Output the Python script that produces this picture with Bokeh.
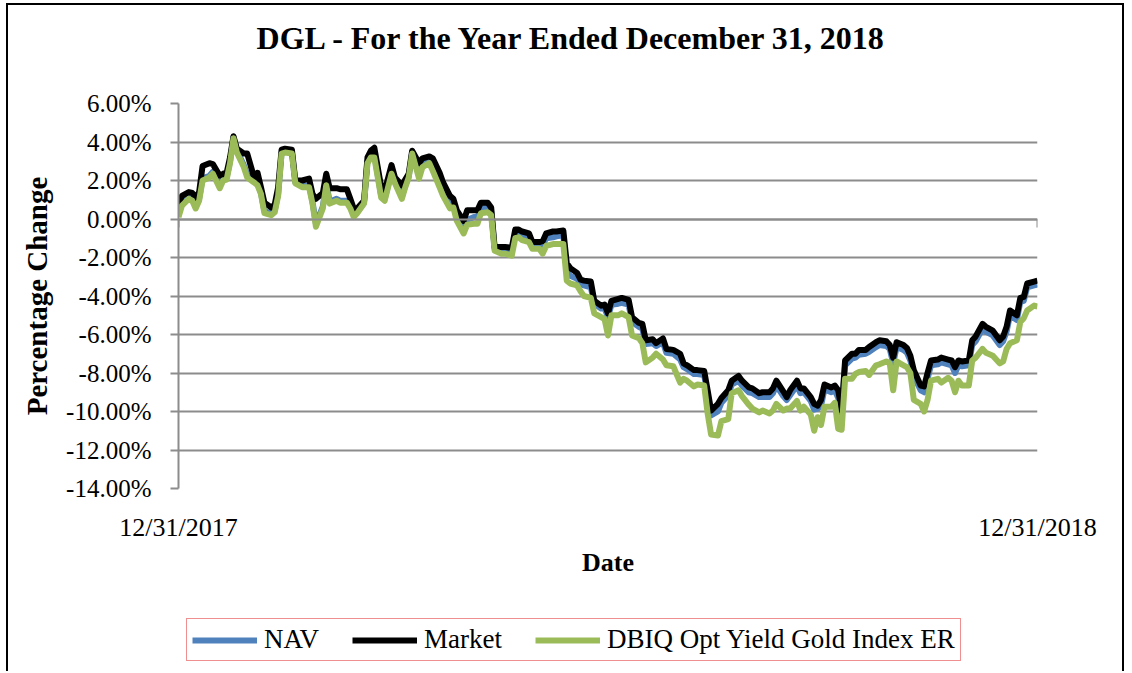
from bokeh.plotting import figure
from bokeh.layouts import column
from bokeh.models import (Range1d, FixedTicker, PrintfTickFormatter, LinearAxis,
                          Legend, LegendItem, ColumnDataSource, Label)
from bokeh.embed import file_html
from bokeh.resources import INLINE

# trading-day index within 2018 (0 = 12/31/2017, 250 = 12/31/2018)
days = [0, 1, 3, 4, 5, 6, 7, 9, 10, 12,
        13, 14, 15, 16, 17, 19, 20, 22, 23, 24,
        25, 27, 28, 29, 30, 31, 33, 34, 36, 38,
        39, 40, 42, 43, 44, 46, 47, 49, 50, 51,
        52, 54, 55, 56, 57, 59, 60, 62, 63, 65,
        66, 67, 68, 70, 71, 73, 74, 76, 77, 79,
        80, 81, 83, 84, 86, 87, 88, 90, 91, 92,
        94, 95, 97, 98, 99, 100, 102, 103, 105, 106,
        107, 109, 110, 112, 113, 114, 116, 117, 118, 120,
        121, 123, 124, 125, 126, 128, 129, 131, 132, 134,
        135, 136, 138, 139, 141, 142, 144, 146, 147, 148,
        150, 151, 153, 154, 155, 157, 158, 160, 161, 163,
        164, 166, 167, 169, 170, 172, 173, 174, 176, 177,
        178, 180, 181, 182, 184, 185, 186, 187, 188, 190,
        191, 192, 193, 194, 196, 197, 198, 200, 201, 203,
        204, 206, 207, 208, 209, 211, 212, 213, 214, 216,
        217, 218, 219, 221, 222, 224, 225, 226, 227, 228,
        230, 231, 232, 234, 235, 237, 239, 240, 241, 242,
        244, 245, 246, 247, 249, 250]

index_er = [0.10, 0.70, 1.05, 0.95, 0.55, 0.95, 2.00, 2.15, 2.35, 1.60,
            2.00, 2.05, 2.90, 4.20, 3.45, 2.70, 2.15, 1.90, 1.75, 1.30,
            0.30, 0.20, 0.35, 1.20, 3.40, 3.45, 3.40, 1.85, 1.65, 1.65,
            0.80, -0.40, 0.55, 1.75, 0.80, 0.95, 0.85, 0.85, 0.55, 0.10,
            0.30, 0.80, 2.90, 3.20, 3.20, 1.10, 0.95, 2.35, 1.85, 1.05,
            1.65, 2.15, 3.40, 2.10, 2.70, 2.90, 2.50, 1.65, 1.20, 0.55,
            0.60, -0.10, -0.75, -0.30, -0.25, -0.25, 0.30, 0.35, 0.20, -1.65,
            -1.80, -1.80, -1.90, -1.00, -0.95, -1.10, -1.20, -1.55, -1.55, -1.80,
            -1.40, -1.30, -1.30, -1.30, -3.20, -3.35, -3.45, -3.75, -4.00, -4.10,
            -4.90, -5.10, -5.20, -6.05, -5.00, -5.00, -4.90, -5.10, -6.05, -6.20,
            -6.45, -7.45, -7.20, -7.00, -7.30, -7.60, -7.65, -8.50, -8.30, -8.40,
            -8.70, -8.60, -8.65, -10.10, -11.20, -11.25, -10.50, -10.40, -9.05, -8.90,
            -9.20, -9.65, -9.85, -10.05, -9.95, -10.10, -9.95, -9.60, -9.95, -9.85,
            -9.85, -9.45, -9.95, -9.75, -10.15, -11.00, -10.30, -10.70, -9.75, -9.75,
            -9.55, -10.90, -10.95, -8.30, -8.30, -8.05, -7.95, -7.90, -8.10, -7.60,
            -7.55, -7.40, -7.50, -8.90, -7.40, -7.60, -7.70, -8.00, -9.40, -9.60,
            -10.00, -9.40, -8.40, -8.30, -8.50, -8.25, -8.40, -9.00, -8.40, -8.65,
            -8.65, -7.35, -7.20, -6.75, -6.95, -7.10, -7.50, -7.40, -6.75, -6.45,
            -6.30, -5.35, -5.15, -4.75, -4.50, -4.55]

market = [0.75, 1.20, 1.40, 1.35, 1.10, 1.40, 2.75, 2.90, 2.85, 2.25,
          2.35, 2.40, 3.20, 4.30, 3.65, 3.40, 3.40, 2.15, 2.40, 1.65,
          0.85, 0.60, 0.75, 1.65, 3.60, 3.65, 3.60, 2.00, 2.00, 2.10,
          1.30, 1.05, 1.35, 2.35, 1.60, 1.60, 1.55, 1.55, 1.05, 0.55,
          0.55, 0.95, 3.20, 3.55, 3.70, 1.65, 1.45, 2.80, 2.15, 1.75,
          2.05, 2.35, 3.55, 2.90, 3.15, 3.25, 3.15, 2.40, 1.90, 1.20,
          1.05, 0.45, -0.10, 0.45, 0.45, 0.45, 0.85, 0.85, 0.60, -1.45,
          -1.45, -1.45, -1.50, -0.55, -0.55, -0.65, -0.75, -1.20, -1.20, -1.15,
          -0.75, -0.65, -0.65, -0.60, -2.30, -2.55, -2.80, -3.15, -3.20, -3.25,
          -4.25, -4.50, -4.45, -4.90, -4.25, -4.15, -4.10, -4.20, -5.10, -5.40,
          -5.45, -6.30, -6.25, -6.45, -6.20, -6.75, -6.80, -7.00, -7.50, -7.60,
          -7.85, -7.85, -7.90, -8.90, -9.95, -9.60, -9.30, -8.90, -8.40, -8.15,
          -8.40, -8.75, -8.80, -9.05, -9.00, -9.00, -8.80, -8.40, -8.95, -9.25,
          -8.90, -8.40, -8.80, -8.80, -9.25, -9.60, -9.70, -9.40, -8.60, -8.75,
          -8.65, -8.90, -9.95, -7.35, -7.00, -7.00, -6.80, -6.80, -6.65, -6.40,
          -6.30, -6.35, -6.55, -7.20, -6.40, -6.55, -6.70, -7.10, -7.85, -8.65,
          -8.70, -8.00, -7.35, -7.30, -7.20, -7.30, -7.35, -7.70, -7.35, -7.40,
          -7.35, -6.30, -6.10, -5.45, -5.60, -5.80, -6.30, -6.10, -5.60, -4.75,
          -5.00, -4.10, -4.05, -3.35, -3.25, -3.20]

nav = [0.25, 0.80, 1.15, 1.05, 0.65, 1.05, 2.10, 2.25, 2.45, 1.70,
       2.10, 2.15, 3.00, 4.25, 3.55, 2.80, 2.30, 1.95, 1.85, 1.35,
       0.40, 0.30, 0.45, 1.30, 3.45, 3.50, 3.45, 1.90, 1.70, 1.75,
       0.90, -0.25, 0.65, 1.85, 0.90, 1.05, 0.95, 0.95, 0.65, 0.20,
       0.35, 0.85, 3.00, 3.30, 3.35, 1.20, 1.05, 2.45, 1.95, 1.15,
       1.75, 2.20, 3.45, 2.30, 2.85, 3.00, 2.75, 1.85, 1.40, 0.75,
       0.75, 0.10, -0.50, -0.05, 0.10, 0.10, 0.55, 0.60, 0.40, -1.55,
       -1.60, -1.60, -1.70, -0.80, -0.75, -0.90, -1.00, -1.35, -1.35, -1.45,
       -1.00, -0.95, -0.90, -0.85, -2.75, -2.95, -3.10, -3.40, -3.45, -3.55,
       -4.40, -4.65, -4.65, -5.10, -4.45, -4.40, -4.35, -4.45, -5.35, -5.60,
       -5.70, -6.50, -6.45, -6.60, -6.40, -6.95, -7.00, -7.30, -7.70, -7.80,
       -8.05, -8.05, -8.10, -9.20, -10.20, -10.00, -9.55, -9.15, -8.60, -8.40,
       -8.65, -9.00, -9.05, -9.25, -9.25, -9.25, -9.05, -8.65, -9.20, -9.40,
       -9.15, -8.65, -9.05, -9.00, -9.45, -9.90, -9.85, -9.70, -8.85, -9.00,
       -8.90, -9.30, -10.10, -7.60, -7.25, -7.20, -7.05, -7.00, -6.90, -6.65,
       -6.55, -6.60, -6.75, -7.50, -6.65, -6.80, -6.95, -7.35, -8.15, -8.90,
       -9.00, -8.30, -7.60, -7.55, -7.45, -7.55, -7.60, -8.00, -7.60, -7.65,
       -7.60, -6.55, -6.35, -5.70, -5.85, -6.05, -6.55, -6.35, -5.85, -5.00,
       -5.25, -4.30, -4.25, -3.55, -3.45, -3.40]

title_text = "DGL - For the Year Ended December 31, 2018"
y_ticks = [-14, -12, -10, -8, -6, -4, -2, 0, 2, 4, 6]
x_ticks = [0, 250]
x_tick_labels = ["12/31/2017", "12/31/2018"]
series_names = ["NAV", "Market", "DBIQ Opt Yield Gold Index ER"]
series_cols = ["nav", "market", "index_er"]
series_colors = ["#4F81BD", "#000000", "#9BBB59"]

SERIF = "Liberation Serif"
GRID = "#8c8c8c"
LW = 6
W = 1114

src = ColumnDataSource(dict(day=days, nav=nav, market=market, index_er=index_er))

# ---------------- title strip ----------------
tf = figure(width=W, height=70, output_backend="svg", toolbar_location=None,
            x_axis_type=None, y_axis_type=None,
            x_range=Range1d(0, 1), y_range=Range1d(0, 1),
            min_border_left=0, min_border_right=0, min_border_top=0,
            min_border_bottom=0)
tf.outline_line_color = None
tf.grid.visible = False
tf.add_layout(Label(x=0.4587, y=0.53, text=title_text, text_align="center",
                    text_baseline="middle", text_font=SERIF, text_font_style="bold",
                    text_font_size="32px", text_color="black"))

# ---------------- main chart ----------------
p = figure(width=W, height=530, output_backend="svg", toolbar_location=None,
           x_range=Range1d(0, 250), y_range=Range1d(-14, 6),
           x_axis_type=None,
           min_border_left=170, min_border_right=85, min_border_top=28,
           min_border_bottom=117)
p.outline_line_color = None
p.background_fill_color = "white"
p.border_fill_color = "white"

yax = p.yaxis[0]
yax.ticker = FixedTicker(ticks=y_ticks)
yax.formatter = PrintfTickFormatter(format="%.2f%%")
yax.axis_line_color = GRID
yax.axis_line_width = 2
yax.major_tick_line_color = GRID
yax.major_tick_line_width = 2
yax.major_tick_out = 8
yax.major_tick_in = 0
yax.minor_tick_line_color = None
yax.major_label_text_font = SERIF
yax.major_label_text_font_size = "25px"
yax.major_label_text_color = "black"
yax.major_label_standoff = 19
yax.axis_label = "Percentage Change"
yax.axis_label_text_font = SERIF
yax.axis_label_text_font_style = "bold"
yax.axis_label_text_font_size = "29px"
yax.axis_label_text_color = "black"
yax.axis_label_standoff = 10

p.ygrid.ticker = FixedTicker(ticks=y_ticks)
p.ygrid.grid_line_color = GRID
p.ygrid.grid_line_width = 2

# category axis crossing at 0 (line + end ticks)
zero_ax = LinearAxis(ticker=FixedTicker(ticks=x_ticks), fixed_location=0,
                     axis_line_color=GRID, axis_line_width=2,
                     major_tick_line_color=GRID, major_tick_line_width=2,
                     major_tick_in=8, major_tick_out=0, minor_tick_line_color=None,
                     major_label_text_color=None, major_label_text_font_size="1px",
                     major_label_standoff=0)
p.add_layout(zero_ax, "above")

# date labels at the bottom (low position)
date_ax = LinearAxis(ticker=FixedTicker(ticks=x_ticks),
                     major_label_overrides={t: l for t, l in zip(x_ticks, x_tick_labels)},
                     axis_line_color=None, major_tick_line_color=None,
                     minor_tick_line_color=None,
                     major_label_text_font=SERIF, major_label_text_font_size="26px",
                     major_label_text_color="black", major_label_standoff=18,
                     axis_label="Date", axis_label_text_font=SERIF,
                     axis_label_text_font_style="bold", axis_label_text_font_size="26px",
                     axis_label_text_color="black", axis_label_standoff=3)
p.add_layout(date_ax, "below")

for col, color in zip(series_cols, series_colors):
    p.line("day", col, source=src, line_color=color, line_width=LW, line_join="round")

# ---------------- legend strip ----------------
lf = figure(width=W, height=66, output_backend="svg", toolbar_location=None,
            x_axis_type=None, y_axis_type=None,
            x_range=Range1d(1000, 1001), y_range=Range1d(0, 1),
            min_border_left=0, min_border_right=0, min_border_top=0,
            min_border_bottom=0)
lf.outline_line_color = None
lf.grid.visible = False
legend_renderers = []
for col, color in zip(series_cols, series_colors):
    legend_renderers.append(lf.line("day", col, source=src, line_color=color,
                                    line_width=LW))

legend = Legend(items=[LegendItem(label=n, renderers=[r])
                       for n, r in zip(series_names, legend_renderers)],
                orientation="horizontal", location=(8, 10),
                label_text_font=SERIF, label_text_font_size="27px",
                label_text_color="black", label_height=22,
                glyph_width=65, glyph_height=22, label_standoff=7, spacing=33,
                padding=5, margin=0,
                border_line_color="#e02020", border_line_width=1,
                background_fill_color="white", background_fill_alpha=1)
lf.add_layout(legend, "center")

layout = column(tf, p, lf, spacing=0)
layout.margin = (3, 0, 0, 6)
layout.styles = {"border-left": "2px solid black", "border-top": "2px solid black",
                 "border-right": "2px solid black"}

open("out.html", "w").write(file_html(layout, INLINE))
